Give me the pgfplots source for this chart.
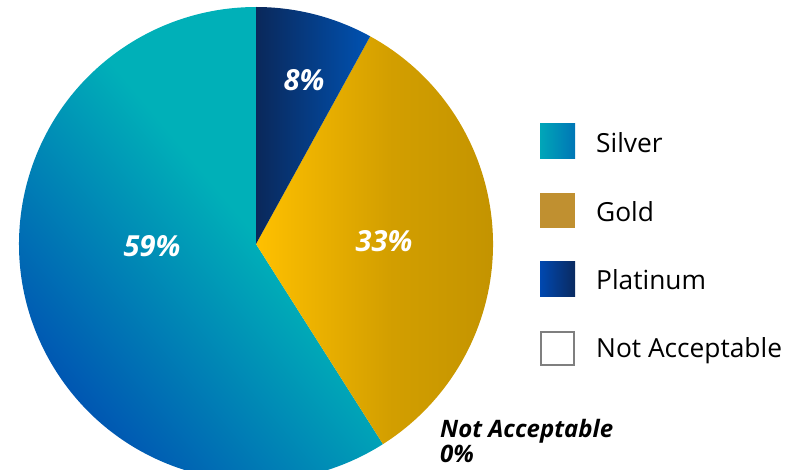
\documentclass[border=0pt]{standalone}
\usepackage{pgfplots}
\pgfplotsset{compat=1.18}
\usepackage{pgfplotstable}
\usepackage{fontspec}
\setmainfont{Open Sans}
\definecolor{sblue}{HTML}{0054B2}
\definecolor{steal}{HTML}{00B0B8}
\definecolor{gbright}{HTML}{FFC000}
\definecolor{gdark}{HTML}{BF9000}
\definecolor{pnavy}{HTML}{0A285A}
\definecolor{pblue}{HTML}{0052B2}
\definecolor{legsilverL}{HTML}{00A6B8}
\definecolor{legsilverR}{HTML}{0076B6}
\definecolor{leggold}{HTML}{C09030}
\definecolor{legplatL}{HTML}{0048B0}
\definecolor{legplatR}{HTML}{0A2A60}
\definecolor{leggrey}{HTML}{7F7F7F}
\pgfdeclarehorizontalshading{silvershade}{100bp}{color(0bp)=(sblue); color(30bp)=(sblue); color(58bp)=(steal); color(100bp)=(steal)}

\pgfplotstableread{
name value
Silver 59
Gold 33
Platinum 8
NotAcceptable 0
}\piedata

\begin{document}
\begin{tikzpicture}
\pgfplotstablegetelem{0}{value}\of\piedata \let\vS\pgfplotsretval
\pgfplotstablegetelem{1}{value}\of\piedata \let\vG\pgfplotsretval
\pgfplotstablegetelem{2}{value}\of\piedata \let\vP\pgfplotsretval
\pgfplotstablegetelem{3}{value}\of\piedata \let\vN\pgfplotsretval
\pgfmathsetmacro\aA{90}
\pgfmathsetmacro\aB{\aA-3.6*\vP}
\pgfmathsetmacro\aC{\aB-3.6*\vG}
\pgfmathsetmacro\aD{\aC-3.6*\vS}
\def\R{237pt}
\begin{axis}[
  scale only axis, width=812pt, height=469pt,
  xmin=0, xmax=812, ymin=0, ymax=469,
  hide axis, clip=true,
]
\addplot[draw=none] coordinates {(0,0) (812,469)};
% Silver
\shade[shading=silvershade, shading angle=40]
  (axis cs:256,225) -- ++(\aC:\R) arc[start angle=\aC, end angle=\aD, radius=\R] -- cycle;
% Gold
\shade[left color=gbright, right color=gdark, middle color=gdark!70!gbright]
  (axis cs:256,225) -- ++(\aB:\R) arc[start angle=\aB, end angle=\aC, radius=\R] -- cycle;
% Platinum
\shade[left color=pnavy, right color=pblue]
  (axis cs:256,225) -- ++(\aA:\R) arc[start angle=\aA, end angle=\aB, radius=\R] -- cycle;
% labels
\node[white, font=\fontsize{29}{31}\selectfont\bfseries\itshape, anchor=base] at (axis cs:152,212) {\vS\%};
\node[white, font=\fontsize{29}{31}\selectfont\bfseries\itshape, anchor=base] at (axis cs:384,217) {\vG\%};
\node[white, font=\fontsize{29}{31}\selectfont\bfseries\itshape, anchor=base] at (axis cs:304,378) {\vP\%};
\node[black, font=\fontsize{24}{25}\selectfont\bfseries\itshape, anchor=base west, inner sep=0pt] at (axis cs:440,31) {Not Acceptable};
\node[black, font=\fontsize{24}{25}\selectfont\bfseries\itshape, anchor=base west, inner sep=0pt] at (axis cs:440,6) {\vN\%};
% legend
\shade[left color=legsilverL, right color=legsilverR] (axis cs:540,310) rectangle (axis cs:575,345);
\fill[leggold] (axis cs:540,241) rectangle (axis cs:575,276);
\shade[left color=legplatL, right color=legplatR] (axis cs:540,172) rectangle (axis cs:575,207);
\draw[leggrey, line width=2pt, fill=white] (axis cs:541,104) rectangle (axis cs:574,137);
\node[font=\fontsize{26.3}{28}\selectfont, anchor=base west, inner sep=0pt] at (axis cs:596,316) {Silver};
\node[font=\fontsize{26.3}{28}\selectfont, anchor=base west, inner sep=0pt] at (axis cs:596,247) {Gold};
\node[font=\fontsize{26.3}{28}\selectfont, anchor=base west, inner sep=0pt] at (axis cs:596,179) {Platinum};
\node[font=\fontsize{26.3}{28}\selectfont, anchor=base west, inner sep=0pt] at (axis cs:596,111) {Not Acceptable};
\end{axis}
\pgfresetboundingbox
\path[use as bounding box] (0,0) rectangle (812pt,469pt);
\end{tikzpicture}
\end{document}
